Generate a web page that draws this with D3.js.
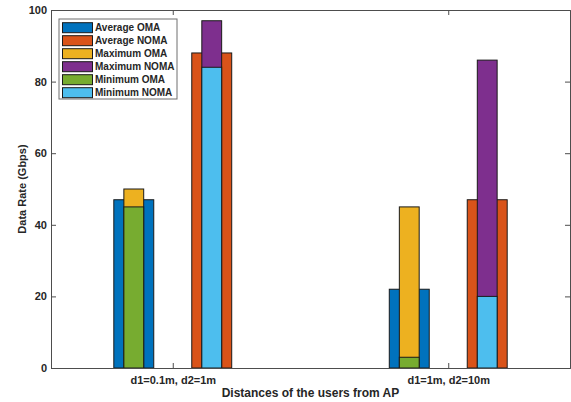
<!DOCTYPE html>
<html>
<head>
<meta charset="utf-8">
<script src="https://cdn.jsdelivr.net/npm/d3@7"></script>
<style>
  body { margin: 0; background: #fff; }
  text { font-family: "Liberation Sans", Arial, sans-serif; font-weight: bold; fill: #262626; }
</style>
</head>
<body>
<svg id="chart" width="571" height="402"></svg>
<script>
// data
var categories = ["d1=0.1m, d2=1m", "d1=1m, d2=10m"];
var averageOMA = [47, 22];
var averageNOMA = [88, 47];
var maximumOMA = [50, 45];
var maximumNOMA = [97, 86];
var minimumOMA = [45, 3];
var minimumNOMA = [84, 20];
var yTicks = [0, 20, 40, 60, 80, 100];

var seriesNames = ["Average OMA", "Average NOMA", "Maximum OMA", "Maximum NOMA", "Minimum OMA", "Minimum NOMA"];
var colors = ["#0072BD", "#D95319", "#EDB120", "#7E2F8E", "#77AC30", "#4DBEEE"];

var plotLeft = 51, plotRight = 570, plotTop = 10, plotBottom = 368;

var svg = d3.select("#chart");

var x = d3.scaleLinear().domain([0.558, 2.442]).range([plotLeft, plotRight]);
var y = d3.scaleLinear().domain([0, 100]).range([plotBottom, plotTop]);

var offset = 0.1415, wide = 0.145, narrow = 0.072;

// drawing order: wide average bars, then max, then min on top
var layers = [
  { values: averageOMA, color: colors[0], side: -1, w: wide },
  { values: averageNOMA, color: colors[1], side: 1, w: wide },
  { values: maximumOMA, color: colors[2], side: -1, w: narrow },
  { values: maximumNOMA, color: colors[3], side: 1, w: narrow },
  { values: minimumOMA, color: colors[4], side: -1, w: narrow },
  { values: minimumNOMA, color: colors[5], side: 1, w: narrow }
];

var bars = svg.append("g");
layers.forEach(function(l) {
  bars.selectAll(null)
    .data(l.values)
    .enter().append("rect")
    .attr("x", (d, i) => x(i + 1 + l.side * offset - l.w / 2))
    .attr("width", (d, i) => x(i + 1 + l.side * offset + l.w / 2) - x(i + 1 + l.side * offset - l.w / 2))
    .attr("y", d => y(d))
    .attr("height", d => y(0) - y(d))
    .attr("fill", l.color)
    .attr("stroke", "#1a1a1a")
    .attr("stroke-width", 1);
});

// axes (box with inward ticks)
var axisColor = "#4d4d4d";
svg.append("g")
  .attr("transform", "translate(" + plotLeft + ",0)")
  .call(d3.axisLeft(y).tickValues(yTicks).tickSize(-5).tickPadding(4).tickFormat(d3.format("d")))
  .call(g => g.selectAll("text").attr("font-size", 11))
  .call(g => g.selectAll("line,path").attr("stroke", axisColor));

svg.append("g")
  .attr("transform", "translate(" + plotRight + ",0)")
  .call(d3.axisRight(y).tickValues(yTicks).tickSize(-5).tickFormat(""))
  .call(g => g.selectAll("line,path").attr("stroke", axisColor));

svg.append("g")
  .attr("transform", "translate(0," + plotBottom + ")")
  .call(d3.axisBottom(x).tickValues([1, 2]).tickSize(-5).tickPadding(8).tickFormat((d, i) => categories[i]))
  .call(g => g.selectAll("text").attr("font-size", 11))
  .call(g => g.selectAll("line,path").attr("stroke", axisColor));

svg.append("g")
  .attr("transform", "translate(0," + plotTop + ")")
  .call(d3.axisTop(x).tickValues([1, 2]).tickSize(-5).tickFormat(""))
  .call(g => g.selectAll("line,path").attr("stroke", axisColor));

svg.selectAll(".domain").attr("stroke-width", 1);

// axis titles
svg.append("text")
  .attr("x", (plotLeft + plotRight) / 2)
  .attr("y", 397)
  .attr("text-anchor", "middle")
  .attr("font-size", 12)
  .text("Distances of the users from AP");

svg.append("text")
  .attr("transform", "translate(26," + ((plotTop + plotBottom) / 2) + ") rotate(-90)")
  .attr("text-anchor", "middle")
  .attr("font-size", 11)
  .text("Data Rate (Gbps)");

// legend
var legend = svg.append("g").attr("transform", "translate(59,19)");
legend.append("rect")
  .attr("width", 118).attr("height", 80)
  .attr("fill", "#fff").attr("stroke", "#6e6e6e").attr("stroke-width", 1);

var items = legend.selectAll("g.item")
  .data(seriesNames)
  .enter().append("g")
  .attr("class", "item")
  .attr("transform", (d, i) => "translate(0," + (8.2 + i * 13) + ")");

items.append("rect")
  .attr("x", 3.5).attr("y", -4.5)
  .attr("width", 30).attr("height", 10)
  .attr("fill", (d, i) => colors[i])
  .attr("stroke", "#1a1a1a").attr("stroke-width", 1);

items.append("text")
  .attr("x", 36)
  .attr("y", 4)
  .attr("font-size", 10)
  .text(d => d);
</script>
</body>
</html>
